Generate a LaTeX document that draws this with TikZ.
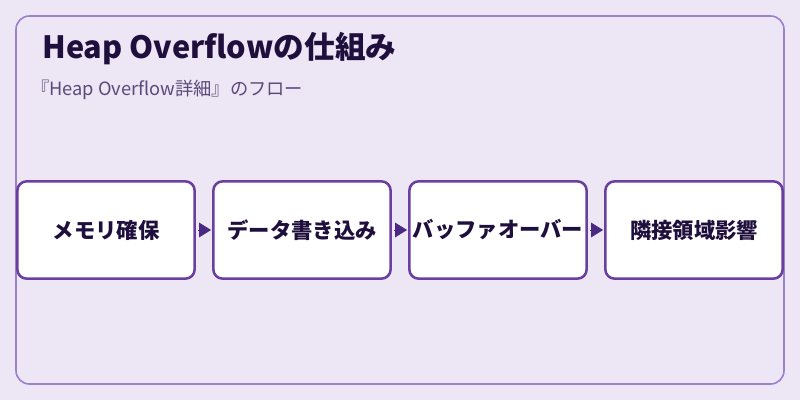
\documentclass[tikz,border=0pt]{standalone}
\usepackage{fontspec}
\setmainfont{Noto Sans CJK JP}
\usetikzlibrary{arrows.meta,positioning}
\definecolor{bgcol}{HTML}{EDE6F5}
\definecolor{framecol}{HTML}{9B7FD0}
\definecolor{boxcol}{HTML}{6A3FA0}
\definecolor{tipcol}{HTML}{4A2A80}
\definecolor{titlecol}{HTML}{1E0F3C}
\definecolor{subcol}{HTML}{5A4A7A}
\tikzset{
  stepbox/.style={draw=boxcol, line width=1.9pt, fill=white, rounded corners=7pt,
    minimum width=133pt, minimum height=73pt, inner sep=0pt, outer sep=0pt,
    font=\fontsize{16}{18}\selectfont\bfseries, text=titlecol},
  flowarrow/.style={-{Triangle[length=9pt,width=11pt]}, tipcol, line width=0.6pt,
    shorten <=2.5pt, shorten >=1.7pt}
}
\begin{document}
\begin{tikzpicture}[x=0.75pt, y=-0.75pt]
	% Draw the background and frame
	\fill[bgcol] (0,0) rectangle (800,400);
	\draw[framecol, line width=1.2pt, rounded corners=10pt] (16,16) rectangle (784,384);
	% Title and subtitle
	\node[anchor=base west, text=titlecol, font=\fontsize{23}{26}\selectfont\bfseries, inner sep=0pt] (title) at (42,58) {Heap Overflowの仕組み};
	\node[anchor=base west, text=subcol, font=\fontsize{13.7}{16}\selectfont, inner sep=0pt] (subtitle) at (31,95) {『Heap Overflow詳細』のフロー};
	% Draw the steps
	\node[stepbox] (alloc) at (106,230) {メモリ確保};
	\node[stepbox, right=14pt of alloc] (write) {データ書き込み};
	\node[stepbox, right=14pt of write] (overflow) {バッファオーバー};
	\node[stepbox, right=14pt of overflow] (neighbor) {隣接領域影響};
	% Draw the arrows
	\draw[flowarrow] (alloc) -- (write);
	\draw[flowarrow] (write) -- (overflow);
	\draw[flowarrow] (overflow) -- (neighbor);
\end{tikzpicture}
\end{document}
